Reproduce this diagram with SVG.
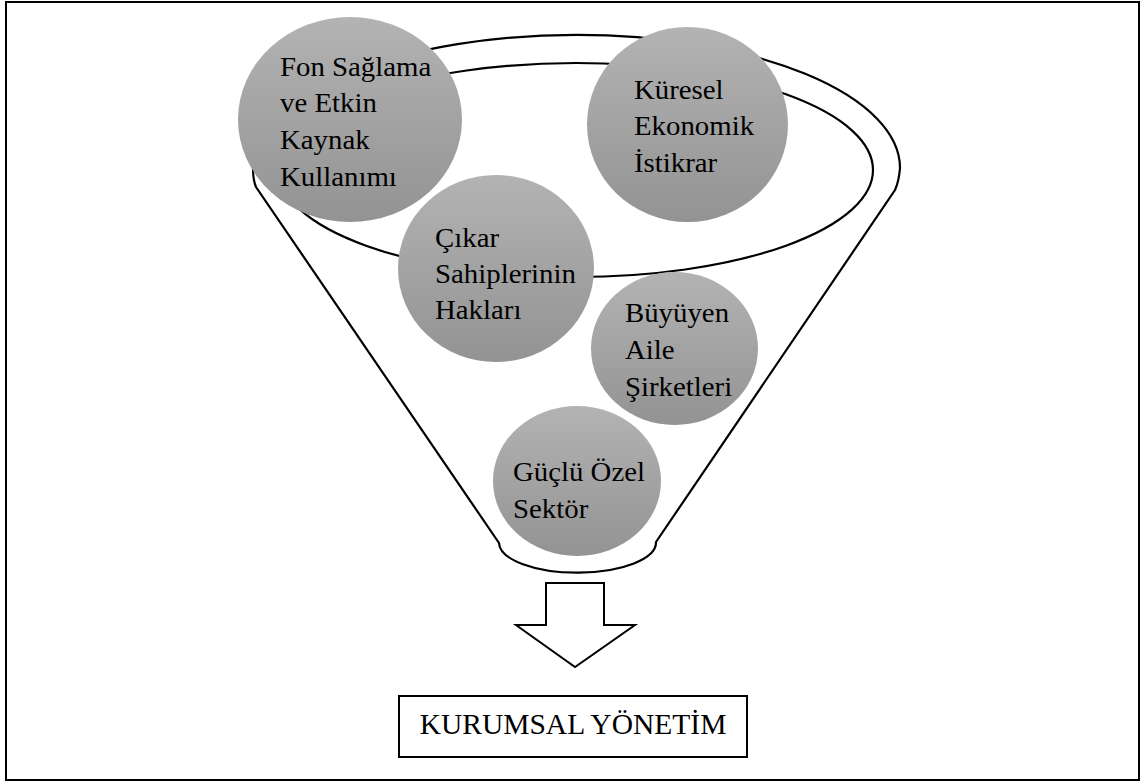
<svg xmlns="http://www.w3.org/2000/svg" width="1140" height="782" viewBox="0 0 1140 782">
  <defs>
    <linearGradient id="g" x1="0" y1="0" x2="0" y2="1">
      <stop offset="0" stop-color="#b3b3b3"/>
      <stop offset="1" stop-color="#939393"/>
    </linearGradient>
  </defs>
  <style>
    .ln { fill: none; stroke: #000; stroke-width: 2.2; }
    .node { fill: url(#g); stroke: none; }
    .t { font-family: "Liberation Serif", "Times New Roman", serif; font-size: 26.7px; fill: #000; }
    .bt { font-family: "Liberation Serif", "Times New Roman", serif; font-size: 29.5px; fill: #000; }
  </style>
  <rect x="0" y="0" width="1140" height="782" fill="#fff"/>
  <rect x="6" y="2" width="1133" height="778" fill="none" stroke="#000" stroke-width="2"/>

  <g id="connectors">
    <path id="funnel" class="ln" d="M253,168 A323,133 0 0 1 900,168 Q899,181 895,190 L656,542 A78,30 0 0 1 499,543 L256,187 Q253,180 253,168 Z"/>
    <ellipse id="rim" class="ln" cx="576" cy="170" rx="297" ry="107"/>
    <path id="arrow" d="M546,583 L604,583 L604,625 L635,625 L575,667 L516,625 L546,625 Z" fill="#fff" stroke="#000" stroke-width="2"/>
  </g>

  <g id="node-fon">
    <ellipse class="node" cx="350" cy="119.5" rx="112" ry="102.5"/>
    <text class="t" transform="translate(280 76) scale(1.08 1)"><tspan x="0" y="0">Fon Sağlama</tspan><tspan x="0" y="36.5">ve Etkin</tspan><tspan x="0" y="73">Kaynak</tspan><tspan x="0" y="109.7">Kullanımı</tspan></text>
  </g>
  <g id="node-kuresel">
    <ellipse class="node" cx="687.5" cy="124.5" rx="100.5" ry="97.5"/>
    <text class="t" transform="translate(634 99) scale(1.08 1)"><tspan x="0" y="0">Küresel</tspan><tspan x="0" y="36.5">Ekonomik</tspan><tspan x="0" y="73">İstikrar</tspan></text>
  </g>
  <g id="node-cikar">
    <ellipse class="node" cx="496" cy="268.5" rx="98" ry="93.5"/>
    <text class="t" transform="translate(435 247) scale(1.08 1)"><tspan x="0" y="0">Çıkar</tspan><tspan x="0" y="36">Sahiplerinin</tspan><tspan x="0" y="72">Hakları</tspan></text>
  </g>
  <g id="node-buyuyen">
    <ellipse class="node" cx="674.5" cy="348.5" rx="83.5" ry="76.5"/>
    <text class="t" transform="translate(625 322) scale(1.08 1)"><tspan x="0" y="0">Büyüyen</tspan><tspan x="0" y="37">Aile</tspan><tspan x="0" y="74">Şirketleri</tspan></text>
  </g>
  <g id="node-guclu">
    <ellipse class="node" cx="577" cy="481" rx="84" ry="75"/>
    <text class="t" transform="translate(513 481) scale(1.08 1)"><tspan x="0" y="0">Güçlü Özel</tspan><tspan x="0" y="37">Sektör</tspan></text>
  </g>
  <g id="node-kurumsal">
    <rect x="399" y="696" width="348" height="61" fill="#fff" stroke="#000" stroke-width="2"/>
    <text class="bt" x="573" y="734" text-anchor="middle">KURUMSAL YÖNETİM</text>
  </g>
</svg>
